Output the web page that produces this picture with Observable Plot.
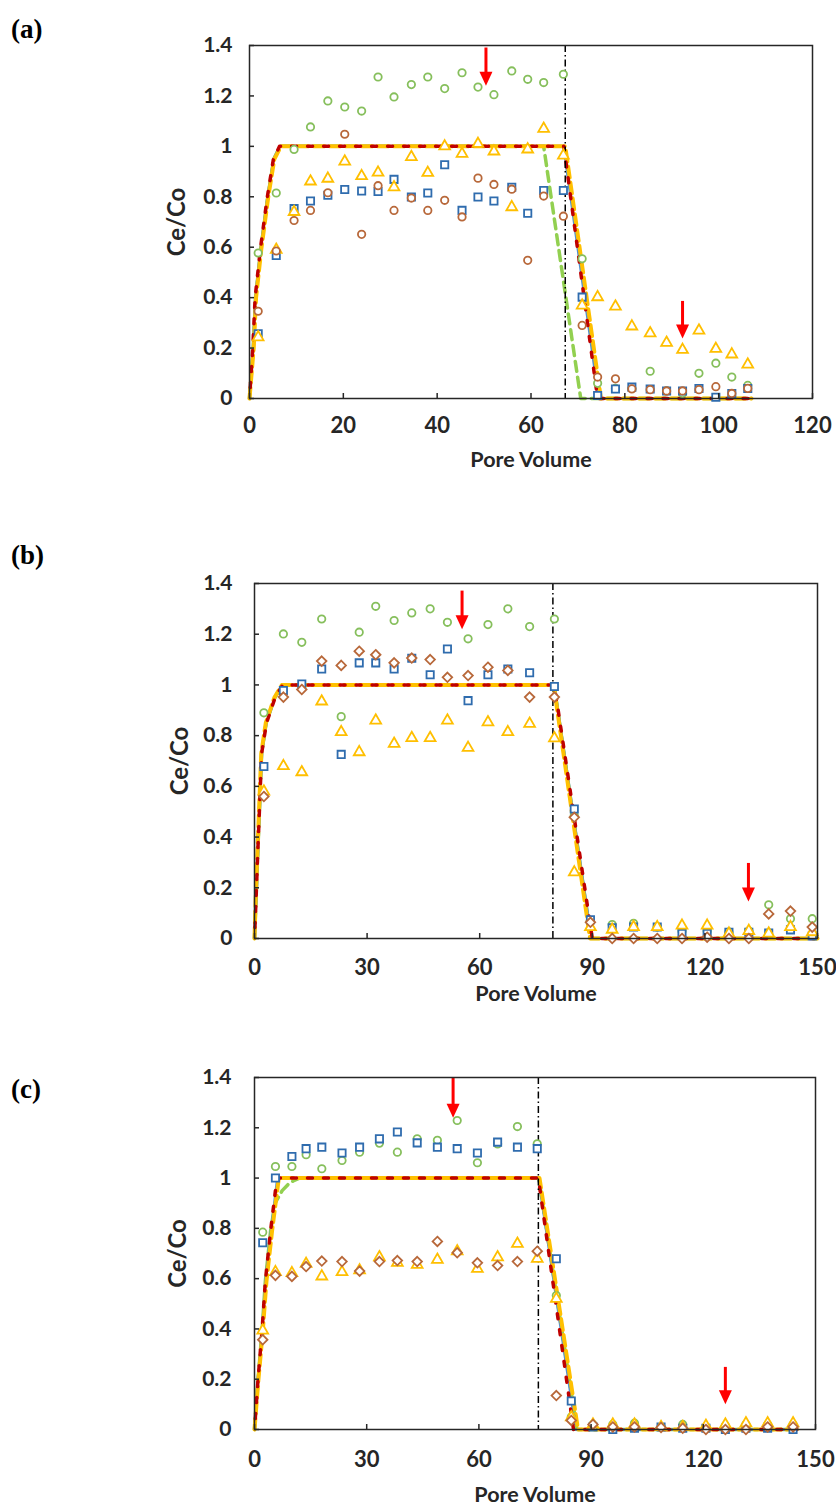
<!DOCTYPE html>
<html><head><meta charset="utf-8">
<script src="https://cdn.jsdelivr.net/npm/d3@7"></script>
<script src="https://cdn.jsdelivr.net/npm/@observablehq/plot@0.6"></script>
<style>
body{margin:0;background:#fff;}
#root{position:relative;width:836px;height:1508px;background:#fff;}
.panel{position:absolute;left:0;}
.tag{position:absolute;left:11px;font-family:"Liberation Serif","Times New Roman",serif;font-weight:bold;font-size:27px;line-height:1;color:#000;}
</style></head><body><div id="root"></div>
<script>
// ---------- shared axis values ----------
const yTicks = [0, 0.2, 0.4, 0.6, 0.8, 1, 1.2, 1.4];
const yTickLabels = ["0", "0.2", "0.4", "0.6", "0.8", "1", "1.2", "1.4"];
const xTicksA = [0, 20, 40, 60, 80, 100, 120];
const xTicksBC = [0, 30, 60, 90, 120, 150];
const panelLabels = ["(a)", "(b)", "(c)"];
const xTitle = "Pore Volume";
const yTitle = "Ce/Co";

// ---------- panel (a) measured points ----------
const aX = [1.85, 5.7, 9.5, 13.0, 16.7, 20.3, 23.9, 27.4, 30.8, 34.5, 38.0, 41.6, 45.3, 48.7, 52.1, 55.9, 59.3, 62.7, 66.9, 70.9, 74.2, 78.0, 81.5, 85.4, 88.9, 92.3, 95.8, 99.4, 102.8, 106.2];
const aGreen = [0.577, 0.815, 0.988, 1.077, 1.18, 1.156, 1.14, 1.275, 1.196, 1.245, 1.275, 1.229, 1.292, 1.235, 1.205, 1.299, 1.266, 1.253, 1.286, 0.554, 0.06, 0.04, 0.04, 0.108, 0.03, 0.02, 0.10, 0.14, 0.085, 0.052];
const aBlue = [0.257, 0.567, 0.753, 0.783, 0.806, 0.829, 0.823, 0.821, 0.869, 0.799, 0.815, 0.927, 0.746, 0.799, 0.783, 0.838, 0.735, 0.825, 0.825, 0.402, 0.012, 0.038, 0.045, 0.038, 0.03, 0.03, 0.04, 0.005, 0.02, 0.04];
const aBrown = [0.346, 0.585, 0.706, 0.746, 0.816, 1.048, 0.651, 0.844, 0.746, 0.795, 0.746, 0.786, 0.72, 0.874, 0.849, 0.83, 0.548, 0.803, 0.723, 0.29, 0.085, 0.078, 0.038, 0.035, 0.03, 0.03, 0.035, 0.047, 0.02, 0.04];
const aYellow = [0.243, 0.59, 0.74, 0.861, 0.872, 0.94, 0.882, 0.896, 0.838, 0.958, 0.895, 1.0, 0.971, 1.01, 0.98, 0.759, 0.988, 1.07, 0.964, 0.369, 0.402, 0.365, 0.286, 0.259, 0.221, 0.193, 0.27, 0.197, 0.175, 0.135];
// panel (a) model curves
const aLineY = [0, 0.2, 0.4, 0.59, 0.8, 0.95, 1, 1, 0, 0];
const aLineGreenX = [0, 0.8, 1.3, 2.4, 3.9, 5.2, 6.5, 62.7, 70.6, 107];
const aLineBlueX = [0, 0.8, 1.3, 2.4, 3.9, 5.2, 6.5, 67.0, 74.5, 107];
const aLineYellowX = [0, 0.9, 1.4, 2.5, 4.0, 5.3, 6.7, 67.3, 74.9, 107];
const aLineRedX = [0, 0.7, 1.2, 2.3, 3.8, 5.1, 6.4, 67.0, 74.2, 107];
const aSwitch = 67.3;
const aArrowX = [50.4, 92.3];
const aArrowTop = [1.39, 0.385];
const aArrowTip = [1.24, 0.238];

// ---------- panel (b) ----------
const bX = [2.5, 7.7, 12.6, 17.9, 23.1, 27.9, 32.3, 37.2, 41.9, 46.8, 51.4, 56.9, 62.2, 67.5, 73.3, 79.9, 85.2, 89.5, 95.3, 101, 107.3, 113.9, 120.6, 126.4, 131.7, 137, 142.8, 148.6];
const bGreen = [0.89, 1.201, 1.168, 1.26, 0.875, 1.208, 1.31, 1.254, 1.284, 1.30, 1.247, 1.182, 1.238, 1.30, 1.23, 1.26, 0.485, 0.071, 0.055, 0.06, 0.045, 0.03, 0.03, 0.025, 0.03, 0.133, 0.078, 0.078];
const bBlue = [0.678, 0.978, 1.004, 1.063, 0.726, 1.087, 1.087, 1.063, 1.105, 1.04, 1.142, 0.938, 1.04, 1.063, 1.048, 0.994, 0.511, 0.074, 0.042, 0.045, 0.045, 0.02, 0.02, 0.025, 0.025, 0.022, 0.034, 0.01];
const bBrown = [0.56, 0.952, 0.982, 1.094, 1.077, 1.133, 1.119, 1.087, 1.106, 1.10, 1.03, 1.037, 1.07, 1.057, 0.952, 0.952, 0.478, 0.064, 0.0, 0.0, 0.0, 0.0, 0.005, 0.0, 0.0, 0.097, 0.108, 0.045];
const bYellow = [0.58, 0.68, 0.656, 0.935, 0.814, 0.735, 0.86, 0.768, 0.791, 0.791, 0.86, 0.752, 0.853, 0.814, 0.847, 0.79, 0.261, 0.045, 0.035, 0.045, 0.045, 0.051, 0.051, 0.02, 0.03, 0.02, 0.045, 0.025];
const bLineY = [0, 0.15, 0.35, 0.5, 0.73, 0.85, 0.95, 1, 1, 0, 0];
const bLineGreenX = [0, 0.4, 0.9, 1.3, 1.9, 3.1, 5.4, 7.4, 79.8, 89.6, 150];
const bLineBlueX = [0, 0.4, 0.9, 1.3, 1.9, 3.1, 5.4, 7.4, 79.8, 89.7, 150];
const bLineYellowX = [0, 0.3, 0.8, 1.2, 1.8, 3.0, 5.3, 7.3, 79.7, 89.4, 150];
const bLineRedX = [0, 0.4, 0.9, 1.3, 1.9, 3.2, 5.5, 7.5, 79.9, 90.0, 150];
const bSwitch = 79.5;
const bArrowX = [55.3, 131.6];
const bArrowTop = [1.37, 0.296];
const bArrowTip = [1.22, 0.146];

// ---------- panel (c) ----------
const cX = [2.2, 5.6, 10.0, 13.8, 18.0, 23.4, 28.1, 33.4, 38.2, 43.5, 48.9, 54.2, 59.6, 65.0, 70.3, 75.6, 80.7, 84.7, 90.5, 95.8, 101.6, 108.7, 114.5, 120.7, 125.9, 131.4, 137.2, 144.0];
const cGreen = [0.785, 1.046, 1.046, 1.093, 1.037, 1.07, 1.103, 1.139, 1.103, 1.156, 1.15, 1.229, 1.061, 1.136, 1.205, 1.136, 0.533, 0.05, 0.02, 0.02, 0.025, 0.01, 0.02, 0.01, 0.015, 0.02, 0.02, 0.02];
const cBlue = [0.743, 1.0, 1.086, 1.117, 1.123, 1.1, 1.123, 1.156, 1.183, 1.14, 1.123, 1.117, 1.1, 1.143, 1.123, 1.117, 0.679, 0.113, 0.01, 0.0, 0.005, 0.01, 0.005, 0.005, 0.0, 0.005, 0.005, 0.0];
const cBrown = [0.357, 0.613, 0.609, 0.648, 0.67, 0.668, 0.63, 0.668, 0.672, 0.668, 0.748, 0.703, 0.663, 0.652, 0.668, 0.709, 0.135, 0.036, 0.02, 0.01, 0.01, 0.008, 0.005, 0.0, 0.0, 0.0, 0.01, 0.01];
const cYellow = [0.394, 0.626, 0.622, 0.659, 0.609, 0.626, 0.633, 0.685, 0.663, 0.655, 0.675, 0.709, 0.639, 0.685, 0.739, 0.679, 0.52, 0.049, 0.02, 0.02, 0.02, 0.01, 0.01, 0.015, 0.02, 0.025, 0.025, 0.025];
const cLineY = [0, 0.19, 0.39, 0.59, 0.79, 1, 1, 0, 0];
const cLineGreenX = [0, 0.9, 2.0, 2.9, 4.3, 5.5, 7.4, 9.0, 10.5, 12.0, 76.0, 86.2, 145];
const cLineGreenY = [0, 0.19, 0.39, 0.59, 0.79, 0.9, 0.95, 0.975, 0.99, 1, 1, 0, 0];
const cLineBlueX = [0, 0.9, 2.1, 3.0, 4.5, 6.2, 76.0, 86.0, 145];
const cLineYellowX = [0, 1.0, 2.2, 3.2, 4.7, 6.5, 76.2, 86.5, 145];
const cLineRedX = [0, 0.9, 2.0, 2.9, 4.3, 6.0, 75.9, 85.3, 145];
const cSwitch = 75.9;
const cArrowX = [53.1, 125.9];
const cArrowTop = [1.40, 0.247];
const cArrowTip = [1.24, 0.10];

// ---------- helpers ----------
const zip = (xs, ys) => xs.map((x, i) => ({x, y: ys[i]}));
const arrowHead = {
  draw(ctx) { ctx.moveTo(-6.5, -14); ctx.lineTo(6.5, -14); ctx.lineTo(0, 0); ctx.closePath(); }
};
const C = {
  gDot: "#86bf5c", bDot: "#2f6cae", brDot: "#b8683a", yDot: "#ffbf00",
  gLine: "#92d050", bLine: "#4f8fd0", yLine: "#ffc000", rLine: "#c00000",
  axis: "#262626"
};
const FONT = "Lato, 'Open Sans', sans-serif";

function makePanel(o) {
  const plotW = 836 - o.ml - o.mr;
  const plotH = o.height - o.mt - o.mb;
  const arrows = o.arrowX.map((x, i) => ({x, y1: o.arrowTop[i], y2: o.arrowTip[i]}));
  const L = (xs, ys, stroke, sw, dash, offset) =>
    Plot.line(zip(xs, ys), {x: "x", y: "y", stroke, strokeWidth: sw, strokeDasharray: dash, strokeDashoffset: offset || 0, curve: "linear"});
  const D = (xs, ys, symbol, stroke, r) =>
    Plot.dot(zip(xs, ys), {x: "x", y: "y", symbol, stroke, fill: "white", r, strokeWidth: 1.8});
  return Plot.plot({
    width: 836, height: o.height,
    marginTop: o.mt, marginBottom: o.mb, marginLeft: o.ml, marginRight: o.mr,
    style: {fontFamily: FONT, fontSize: "21px", fontWeight: "bold", color: C.axis, background: "transparent", overflow: "visible"},
    x: {domain: [0, o.xMax], label: null},
    y: {domain: [0, 1.4], label: null},
    marks: [
      L(o.green[0], o.green[1], C.gLine, 3.5, "10,6"),
      L(o.blue[0], o.blue[1], C.bLine, 3.2, "10,6"),
      L(o.yellow[0], o.yellow[1], C.yLine, 4, "11,5"),
      L(o.red[0], o.red[1], C.rLine, 3.5, "5,11", -11),
      Plot.ruleX([o.sw], {stroke: "#000", strokeWidth: 1.5, strokeDasharray: "7,3,1.5,3"}),
      D(o.x, o.pGreen, "circle", C.gDot, 3.7),
      D(o.x, o.pBlue, "square", C.bDot, 4.1),
      D(o.x, o.pYellow, "triangle", C.yDot, 4.0),
      D(o.x, o.pBrown, o.brownSymbol, C.brDot, o.brownSymbol === "circle" ? 3.7 : 4.3),
      Plot.ruleX(arrows, {x: "x", y1: "y1", y2: "y2", stroke: "#ff0000", strokeWidth: 3, insetBottom: 8}),
      Plot.dot(arrows, {x: "x", y: "y2", symbol: arrowHead, fill: "#ff0000", stroke: "none", r: 6}),
      Plot.frame({stroke: C.axis, strokeWidth: 1.5}),
      Plot.tickX(o.xTicks, {x: d => d, insetTop: plotH - 5, stroke: C.axis, strokeWidth: 1.5}),
      Plot.tickY(yTicks, {y: d => d, insetRight: plotW - 5, stroke: C.axis, strokeWidth: 1.5}),
      Plot.axisX(o.xTicks, {tickSize: 0, tickPadding: o.xPad, tickFormat: d => String(d), fontSize: 22, fontWeight: "bold", fill: C.axis}),
      Plot.axisY(yTicks, {tickSize: 0, tickPadding: o.yPad, tickFormat: (d, i) => yTickLabels[i], fontSize: 21, fontWeight: "bold", fill: C.axis}),
      Plot.text([xTitle], {frameAnchor: "bottom", lineAnchor: "middle", textAnchor: "middle", dy: o.xTitleDy, fontSize: 21.5, fontWeight: "bold", fill: C.axis}),
      Plot.text([yTitle], {frameAnchor: "left", lineAnchor: "middle", textAnchor: "middle", dx: -o.yTitleDx, rotate: -90, fontSize: 24, fontWeight: "bold", fill: C.axis})
    ]
  });
}

const panels = [
  {top: 0, height: 480, mt: 45, mb: 82, ml: 249, mr: 24, xMax: 120, xTicks: xTicksA,
   x: aX, pGreen: aGreen, pBlue: aBlue, pBrown: aBrown, pYellow: aYellow, brownSymbol: "circle",
   green: [aLineGreenX, aLineY], blue: [aLineBlueX, aLineY], yellow: [aLineYellowX, aLineY], red: [aLineRedX, aLineY],
   sw: aSwitch, arrowX: aArrowX, arrowTop: aArrowTop, arrowTip: aArrowTip,
   xPad: 19, yPad: 17, xTitleDy: 62, yTitleDx: 72, tagTop: 16},
  {top: 530, height: 480, mt: 53, mb: 72, ml: 254, mr: 19, xMax: 150, xTicks: xTicksBC,
   x: bX, pGreen: bGreen, pBlue: bBlue, pBrown: bBrown, pYellow: bYellow, brownSymbol: "diamond2",
   green: [bLineGreenX, bLineY], blue: [bLineBlueX, bLineY], yellow: [bLineYellowX, bLineY], red: [bLineRedX, bLineY],
   sw: bSwitch, arrowX: bArrowX, arrowTop: bArrowTop, arrowTip: bArrowTip,
   xPad: 21, yPad: 22, xTitleDy: 56, yTitleDx: 74, tagTop: 542},
  {top: 1020, height: 488, mt: 57, mb: 79, ml: 254, mr: 21, xMax: 150, xTicks: xTicksBC,
   x: cX, pGreen: cGreen, pBlue: cBlue, pBrown: cBrown, pYellow: cYellow, brownSymbol: "diamond2",
   green: [cLineGreenX, cLineGreenY], blue: [cLineBlueX, cLineY], yellow: [cLineYellowX, cLineY], red: [cLineRedX, cLineY],
   sw: cSwitch, arrowX: cArrowX, arrowTop: cArrowTop, arrowTip: cArrowTip,
   xPad: 22, yPad: 23, xTitleDy: 66, yTitleDx: 76, tagTop: 1076}
];

const root = document.getElementById("root");
panels.forEach((p, i) => {
  const div = document.createElement("div");
  div.className = "panel";
  div.style.top = p.top + "px";
  div.appendChild(makePanel(p));
  root.appendChild(div);
  const tag = document.createElement("div");
  tag.className = "tag";
  tag.style.top = p.tagTop + "px";
  tag.textContent = panelLabels[i];
  root.appendChild(tag);
});
</script>
</body></html>
